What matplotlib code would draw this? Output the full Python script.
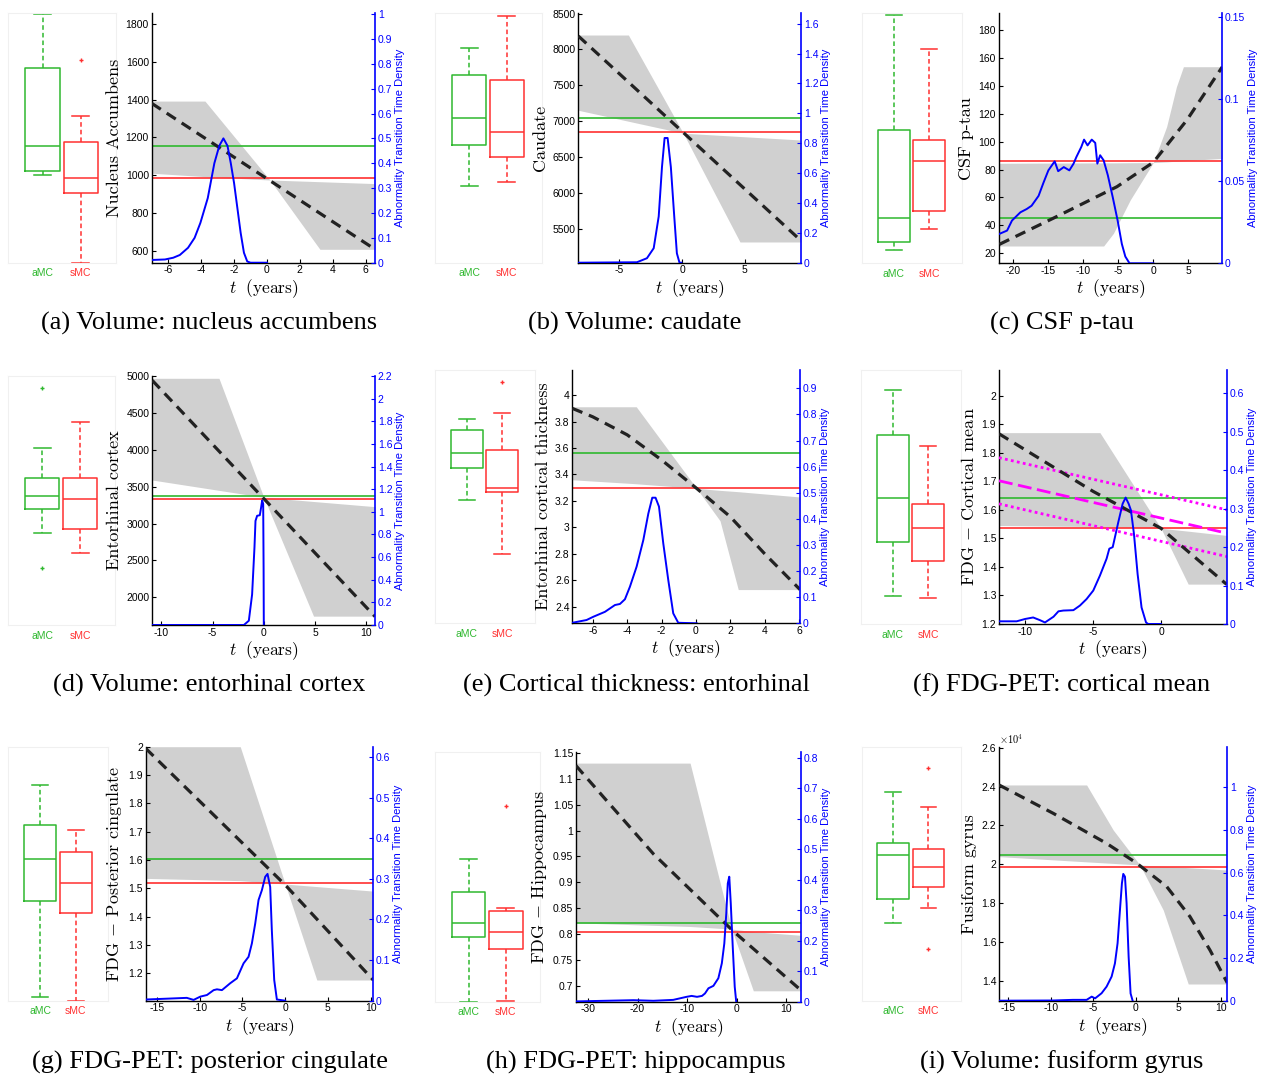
import matplotlib
matplotlib.use('Agg')
import matplotlib.pyplot as plt
from matplotlib.ticker import MultipleLocator, FuncFormatter

plt.rcParams['font.family'] = ['Liberation Sans', 'DejaVu Sans']
plt.rcParams['mathtext.fontset'] = 'cm'

# ------------------------------------------------------------------ data
# box stats: [whisker low, q1, median, q3, whisker high]
a_amc = [1001, 1023, 1156, 1569, 1852]
a_amc_out = []
a_smc = [537, 904, 985, 1174, 1313]
a_smc_out = [1608]
a_mean_t = [-7.01, 6.57]
a_mean_v = [1380, 607]
a_fan_t = [-7.01, -3.77, 0.18, 3.22, 6.57]
a_fan_lo = [1010, 992, 974, 607, 607]
a_fan_hi = [1392, 1392, 974, 965, 955]
a_dens_t = [-7.0, -6.2, -5.7, -5.3, -4.8, -4.4, -4.05, -3.6, -3.2, -2.9, -2.65, -2.4, -2.2, -2.0, -1.8, -1.6, -1.4, -1.2, -1.0, 0.0]
a_dens_d = [0.011, 0.013, 0.02, 0.031, 0.06, 0.10, 0.16, 0.26, 0.40, 0.47, 0.50, 0.47, 0.40, 0.32, 0.22, 0.12, 0.04, 0.005, 0.0, 0.0]

b_amc = [6097, 6669, 7038, 7638, 8020]
b_amc_out = []
b_smc = [6153, 6502, 6847, 7576, 8465]
b_smc_out = []
b_mean_t = [-8.28, 9.5]
b_mean_v = [8186, 5330]
b_fan_t = [-8.28, -4.28, 0.1, 4.63, 9.5]
b_fan_lo = [7150, 6997, 6830, 5312, 5312]
b_fan_hi = [8200, 8200, 6830, 6784, 6735]
b_dens_t = [-8.28, -3.6, -2.8, -2.26, -1.86, -1.6, -1.39, -1.15, -0.89, -0.62, -0.41, -0.2, -0.05]
b_dens_d = [0.0, 0.003, 0.03, 0.097, 0.31, 0.64, 0.835, 0.835, 0.64, 0.31, 0.063, 0.0, 0.0]

c_amc = [22.4, 27.9, 45.1, 108.4, 191.0]
c_amc_out = []
c_smc = [37.2, 50.3, 86.0, 101.2, 166.2]
c_smc_out = []
c_mean_t = [-22.0, -14.3, -5.2, 0.0, 4.8, 9.86]
c_mean_v = [26.4, 45.1, 67.7, 85.2, 115.5, 153.6]
c_fan_t = [-22.1, -7.1, -5.7, -3.3, 0.0, 1.9, 3.3, 4.3, 9.86]
c_fan_lo = [25.2, 25.2, 34.3, 58.2, 85.0, 85.5, 86.0, 86.3, 88.0]
c_fan_hi = [84.5, 84.8, 84.8, 84.9, 85.0, 110.7, 139.3, 153.7, 153.7]
c_dens_t = [-22.0, -20.9, -20.2, -19.0, -18.1, -17.4, -16.4, -15.7, -15.0, -14.1, -13.6, -12.8, -12.0, -11.4, -11.0,
            -10.3, -9.9, -9.4, -8.8, -8.3, -8.0, -7.6, -7.1, -6.5, -5.8, -5.1, -4.5, -4.0, -3.4, 0.0]
c_dens_d = [0.0179, 0.0199, 0.026, 0.031, 0.033, 0.035, 0.041, 0.049, 0.0565, 0.062, 0.056, 0.0585, 0.0565, 0.0606, 0.0646,
            0.0707, 0.0752, 0.0717, 0.0752, 0.0732, 0.0606, 0.0657, 0.0626, 0.0535, 0.0402, 0.026, 0.0118, 0.0041, 0.0, 0.0]

d_amc = [2868, 3197, 3378, 3613, 4020]
d_amc_out = [4837, 2394]
d_smc = [2597, 2930, 3333, 3622, 4381]
d_smc_out = []
d_mean_t = [-10.87, 10.84]
d_mean_v = [4940, 1740]
d_fan_t = [-10.87, -4.37, 0.0, 4.85, 10.84]
d_fan_lo = [3590, 3450, 3356, 1745, 1745]
d_fan_hi = [4969, 4969, 3356, 3299, 3229]
d_dens_t = [-10.87, -1.94, -1.46, -1.14, -0.91, -0.81, -0.65, -0.39, -0.26, -0.16, -0.06, -0.02, 0.0]
d_dens_d = [0.0, 0.0, 0.038, 0.27, 0.685, 0.92, 0.965, 0.97, 1.04, 1.10, 1.07, 0.5, 0.0]

e_amc = [3.206, 3.45, 3.564, 3.735, 3.82]
e_amc_out = []
e_smc = [2.80, 3.267, 3.30, 3.584, 3.862]
e_smc_out = [4.10]
e_mean_t = [-7.19, -6.0, -4.0, -2.0, 0.04, 2.0, 4.0, 6.05]
e_mean_v = [3.90, 3.836, 3.70, 3.51, 3.295, 3.08, 2.80, 2.53]
e_fan_t = [-7.19, -3.47, 0.04, 1.4, 2.46, 6.05]
e_fan_lo = [3.36, 3.33, 3.295, 3.05, 2.53, 2.53]
e_fan_hi = [3.912, 3.912, 3.295, 3.28, 3.27, 3.23]
e_dens_t = [-7.19, -6.36, -5.97, -5.29, -4.71, -4.42, -4.13, -3.84, -3.45, -3.06, -2.77, -2.54, -2.35, -2.15, -1.90, -1.61, -1.32, -1.03, 0.04]
e_dens_d = [0.002, 0.0126, 0.025, 0.044, 0.070, 0.074, 0.092, 0.14, 0.217, 0.319, 0.42, 0.481, 0.481, 0.447, 0.306, 0.166, 0.038, 0.002, 0.0]

f_amc = [1.298, 1.486, 1.641, 1.864, 2.021]
f_amc_out = []
f_smc = [1.291, 1.420, 1.535, 1.620, 1.824]
f_smc_out = []
f_mean_t = [-11.91, -5.0, 0.0, 4.83]
f_mean_v = [1.867, 1.665, 1.535, 1.338]
f_fan_t = [-11.91, -4.49, 0.0, 2.0, 4.83]
f_fan_lo = [1.545, 1.541, 1.535, 1.339, 1.339]
f_fan_hi = [1.871, 1.871, 1.535, 1.525, 1.51]
f_mag_t = [-11.91, 4.83]
f_mag_mid = [1.702, 1.518]
f_mag_up = [1.783, 1.600]
f_mag_lo = [1.621, 1.436]
f_dens_t = [-11.91, -10.61, -10.0, -9.4, -8.9, -8.53, -7.9, -7.54, -7.18, -6.44, -5.96, -5.47, -4.98, -4.49, -4.0, -3.8,
            -3.55, -3.14, -2.82, -2.6, -2.38, -2.21, -1.99, -1.72, -1.43, -1.1, -0.94, 0.0]
f_dens_d = [0.007, 0.007, 0.013, 0.017, 0.010, 0.004, 0.019, 0.033, 0.035, 0.036, 0.048, 0.065, 0.087, 0.126, 0.17, 0.196,
            0.2, 0.265, 0.313, 0.329, 0.313, 0.296, 0.235, 0.13, 0.043, 0.004, 0.0, 0.0]

g_amc = [1.117, 1.456, 1.604, 1.7226, 1.865]
g_amc_out = []
g_smc = [1.101, 1.412, 1.518, 1.628, 1.706]
g_smc_out = []
g_mean_t = [-16.3, 0.0, 10.3]
g_mean_v = [1.994, 1.512, 1.176]
g_fan_t = [-16.3, -5.25, 0.0, 3.7, 10.3]
g_fan_lo = [1.535, 1.527, 1.515, 1.176, 1.176]
g_fan_hi = [2.0, 2.0, 1.515, 1.506, 1.49]
g_dens_t = [-16.2, -13.8, -11.5, -10.7, -9.92, -9.14, -8.36, -7.97, -7.39, -6.42, -5.64, -4.86, -4.28, -3.89, -3.5, -3.11,
            -2.72, -2.33, -2.06, -1.75, -1.56, -1.28, -0.97, 0.0]
g_dens_d = [0.003, 0.005, 0.007, 0.002, 0.01, 0.014, 0.026, 0.028, 0.026, 0.043, 0.055, 0.092, 0.108, 0.141, 0.19, 0.248,
            0.272, 0.305, 0.312, 0.28, 0.174, 0.051, 0.003, 0.0]

h_amc = [0.670, 0.794, 0.821, 0.882, 0.945]
h_amc_out = []
h_smc = [0.671, 0.771, 0.805, 0.844, 0.851]
h_smc_out = [1.047]
h_mean_t = [-32.4, -16.8, -0.7, 12.96]
h_mean_v = [1.125, 0.955, 0.806, 0.692]
h_fan_t = [-32.4, -9.4, -1.0, 3.35, 12.96]
h_fan_lo = [0.822, 0.815, 0.81, 0.691, 0.691]
h_fan_hi = [1.13, 1.13, 0.81, 0.805, 0.798]
h_dens_t = [-32.3, -20.8, -16.8, -12.8, -10.1, -9.1, -8.0, -7.0, -6.4, -5.7, -4.7, -3.7, -3.0, -2.5, -2.1, -1.8, -1.5,
            -1.2, -0.8, -0.4, -0.1]
h_dens_d = [0.001, 0.005, 0.003, 0.006, 0.016, 0.019, 0.016, 0.019, 0.027, 0.044, 0.052, 0.077, 0.126, 0.191, 0.29, 0.388,
            0.41, 0.323, 0.18, 0.049, 0.0]

i_amc = [16990, 18200, 20460, 21100, 23730]
i_amc_out = []
i_smc = [17760, 18810, 19870, 20800, 22970]
i_smc_out = [24930, 15620]
i_mean_t = [-16.1, -9.73, -3.45, 0.0, 3.61, 6.35, 8.71, 10.74]
i_mean_v = [24080, 22620, 21070, 20080, 18850, 17300, 15570, 13890]
i_fan_t = [-16.1, -5.8, -2.67, 0.47, 3.21, 6.15, 10.74]
i_fan_lo = [20390, 20120, 20040, 19960, 17640, 13830, 13830]
i_fan_hi = [24080, 24080, 21760, 19960, 19890, 19820, 19700]
i_dens_t = [-16.1, -9.72, -7.4, -5.8, -5.2, -4.8, -4.04, -3.45, -2.86, -2.47, -2.16, -1.88, -1.65, -1.49, -1.29, -1.1,
            -0.86, -0.63, -0.39]
i_dens_d = [0.0, 0.001, 0.004, 0.004, 0.019, 0.011, 0.035, 0.066, 0.113, 0.175, 0.269, 0.425, 0.55, 0.594, 0.581, 0.457,
            0.206, 0.034, 0.0]

group_labels = ['aMC', 'sMC']

# ------------------------------------------------------------------ style / layout
W, H = 1266, 1076
GREEN = '#2fb82f'
RED = '#ff3030'
BLUE = '#0000ff'
FAN = '#d0d0d0'
MAG = '#ff00ff'

fig = plt.figure(figsize=(W / 100, H / 100), dpi=100)


def px_axes(x0, x1, y0, y1):
    return fig.add_axes([x0 / W, 1 - y1 / H, (x1 - x0) / W, (y1 - y0) / H])


def gfmt(v, pos):
    return '%g' % round(v, 6)


def sci4fmt(v, pos):
    return '%g' % round(v / 1e4, 6)


panels = [
    dict(amc=a_amc, amc_out=a_amc_out, smc=a_smc, smc_out=a_smc_out, mt=a_mean_t, mv=a_mean_v,
         ft=a_fan_t, flo=a_fan_lo, fhi=a_fan_hi, dt=a_dens_t, dd=a_dens_d,
         box=(8.3, 115.7), main=(151.7, 375, 13.3, 262.7), xlim=(-7.01, 6.57), ylim=(536, 1857),
         y2lim=(0, 1.003), xs=2, ys=200, y2s=0.1, ylabel='Nucleus Accumbens',
         cap='(a) Volume: nucleus accumbens', capxy=(209, 323)),
    dict(amc=b_amc, amc_out=b_amc_out, smc=b_smc, smc_out=b_smc_out, mt=b_mean_t, mv=b_mean_v,
         ft=b_fan_t, flo=b_fan_lo, fhi=b_fan_hi, dt=b_dens_t, dd=b_dens_d,
         box=(435, 541.7), main=(578.3, 801, 13.3, 262.7), xlim=(-8.28, 9.5), ylim=(5023, 8503),
         y2lim=(0, 1.67), xs=5, ys=500, y2s=0.2, ylabel='Caudate',
         cap='(b) Volume: caudate', capxy=(635, 323)),
    dict(amc=c_amc, amc_out=c_amc_out, smc=c_smc, smc_out=c_smc_out, mt=c_mean_t, mv=c_mean_v,
         ft=c_fan_t, flo=c_fan_lo, fhi=c_fan_hi, dt=c_dens_t, dd=c_dens_d,
         box=(861.7, 961.7), main=(998.7, 1222.3, 13.3, 263.3), xlim=(-22.1, 9.86), ylim=(12.8, 192),
         y2lim=(0, 0.152), xs=5, ys=20, y2s=0.05, ylabel='CSF p-tau',
         cap='(c) CSF p-tau', capxy=(1062, 323)),
    dict(amc=d_amc, amc_out=d_amc_out, smc=d_smc, smc_out=d_smc_out, mt=d_mean_t, mv=d_mean_v,
         ft=d_fan_t, flo=d_fan_lo, fhi=d_fan_hi, dt=d_dens_t, dd=d_dens_d,
         box=(8.3, 115), main=(152.3, 375, 376, 625), xlim=(-10.87, 10.84), ylim=(1625, 5000),
         y2lim=(0, 2.2), xs=5, ys=500, y2s=0.2, ylabel='Entorhinal cortex',
         cap='(d) Volume: entorhinal cortex', capxy=(209, 685)),
    dict(amc=e_amc, amc_out=e_amc_out, smc=e_smc, smc_out=e_smc_out, mt=e_mean_t, mv=e_mean_v,
         ft=e_fan_t, flo=e_fan_lo, fhi=e_fan_hi, dt=e_dens_t, dd=e_dens_d,
         box=(435, 535), main=(572.3, 800, 370, 623.3), xlim=(-7.19, 6.05), ylim=(2.275, 4.19),
         y2lim=(0, 0.97), xs=2, ys=0.2, y2s=0.1, ylabel='Entorhinal cortical thickness',
         cap='(e) Cortical thickness: entorhinal', capxy=(636, 685)),
    dict(amc=f_amc, amc_out=f_amc_out, smc=f_smc, smc_out=f_smc_out, mt=f_mean_t, mv=f_mean_v,
         ft=f_fan_t, flo=f_fan_lo, fhi=f_fan_hi, dt=f_dens_t, dd=f_dens_d,
         box=(860.7, 960.7), main=(999, 1226.7, 370, 624), xlim=(-11.91, 4.83), ylim=(1.199, 2.091),
         y2lim=(0, 0.661), xs=5, ys=0.1, y2s=0.1, ylabel='FDG $-$ Cortical mean',
         cap='(f) FDG-PET: cortical mean', capxy=(1062, 685), magenta=True),
    dict(amc=g_amc, amc_out=g_amc_out, smc=g_smc, smc_out=g_smc_out, mt=g_mean_t, mv=g_mean_v,
         ft=g_fan_t, flo=g_fan_lo, fhi=g_fan_hi, dt=g_dens_t, dd=g_dens_d,
         box=(8.3, 108.3), main=(145.7, 373.3, 746.7, 1000.7), xlim=(-16.3, 10.3), ylim=(1.103, 2.0),
         y2lim=(0, 0.625), xs=5, ys=0.1, y2s=0.1, ylabel='FDG $-$ Posterior cingulate',
         cap='(g) FDG-PET: posterior cingulate', capxy=(210, 1062)),
    dict(amc=h_amc, amc_out=h_amc_out, smc=h_smc, smc_out=h_smc_out, mt=h_mean_t, mv=h_mean_v,
         ft=h_fan_t, flo=h_fan_lo, fhi=h_fan_hi, dt=h_dens_t, dd=h_dens_d,
         box=(435, 540), main=(576, 801, 751.7, 1001.7), xlim=(-32.4, 12.96), ylim=(0.670, 1.152),
         y2lim=(0, 0.82), xs=10, ys=0.05, y2s=0.1, ylabel='FDG $-$ Hippocampus',
         cap='(h) FDG-PET: hippocampus', capxy=(636, 1062)),
    dict(amc=i_amc, amc_out=i_amc_out, smc=i_smc, smc_out=i_smc_out, mt=i_mean_t, mv=i_mean_v,
         ft=i_fan_t, flo=i_fan_lo, fhi=i_fan_hi, dt=i_dens_t, dd=i_dens_d,
         box=(861.7, 960.7), main=(999, 1227.3, 746.7, 1000.7), xlim=(-16.1, 10.74), ylim=(12970, 26050),
         y2lim=(0, 1.19), xs=5, ys=2000, y2s=0.2, ylabel='Fusiform gyrus',
         cap='(i) Volume: fusiform gyrus', capxy=(1062, 1062), sci=True),
]


def stats(v, out):
    return dict(whislo=v[0], q1=v[1], med=v[2], q3=v[3], whishi=v[4], fliers=out)


for p in panels:
    mx0, mx1, my0, my1 = p['main']
    bx0, bx1 = p['box']

    # ---- box plot axes
    bax = px_axes(bx0, bx1, my0, my1)
    for grp, (vals, out, col) in enumerate([(p['amc'], p['amc_out'], GREEN), (p['smc'], p['smc_out'], RED)]):
        bax.bxp([stats(vals, out)], positions=[grp + 1], widths=0.9, showfliers=True,
                boxprops=dict(color=col, lw=1.1),
                medianprops=dict(color=col, lw=1.1),
                whiskerprops=dict(color=col, lw=1.1, linestyle=(0, (3, 2))),
                capprops=dict(color=col, lw=1.1),
                flierprops=dict(marker='+', markeredgecolor=col, markersize=3.5, markeredgewidth=1.0))
    bax.set_xlim(0.1, 2.92)
    bax.set_ylim(*p['ylim'])
    bax.set_yticks([])
    bax.set_xticks([1, 2])
    bax.set_xticklabels(group_labels)
    for lab, col in zip(bax.get_xticklabels(), [GREEN, RED]):
        lab.set_color(col)
    bax.tick_params(axis='x', length=0, labelsize=7.5, pad=4)
    for s in bax.spines.values():
        s.set_color('#f0f0f0')
        s.set_linewidth(0.8)

    # ---- main axes
    ax = px_axes(mx0, mx1, my0, my1)
    ax.fill_between(p['ft'], p['flo'], p['fhi'], color=FAN, lw=0, zorder=1)
    ax.axhline(p['amc'][2], color=GREEN, lw=1.2, zorder=2)
    ax.axhline(p['smc'][2], color=RED, lw=1.2, zorder=2)
    if p.get('magenta'):
        ax.plot(f_mag_t, f_mag_up, color=MAG, lw=2.0, linestyle=(0, (1, 1.2)), zorder=3)
        ax.plot(f_mag_t, f_mag_lo, color=MAG, lw=2.0, linestyle=(0, (1, 1.2)), zorder=3)
        ax.plot(f_mag_t, f_mag_mid, color=MAG, lw=2.0, linestyle=(0, (5, 2)), zorder=3)
    ax.plot(p['mt'], p['mv'], color='#222222', lw=2.3, linestyle=(0, (3.4, 2.2)), zorder=4)
    ax.set_xlim(*p['xlim'])
    ax.set_ylim(*p['ylim'])
    ax.xaxis.set_major_locator(MultipleLocator(p['xs']))
    ax.yaxis.set_major_locator(MultipleLocator(p['ys']))
    ax.xaxis.set_major_formatter(FuncFormatter(gfmt))
    ax.yaxis.set_major_formatter(FuncFormatter(sci4fmt if p.get('sci') else gfmt))
    ax.tick_params(direction='in', length=3, width=0.8, labelsize=7.5, pad=2)
    ax.spines['top'].set_visible(False)
    ax.spines['right'].set_visible(False)
    ax.spines['left'].set_linewidth(1.0)
    ax.spines['bottom'].set_linewidth(1.0)
    ax.set_ylabel(p['ylabel'], family='cmr10', fontsize=13, labelpad=3)
    ax.set_xlabel(r'$t\ \ (\mathrm{years})$', fontsize=12.5, labelpad=1)
    if p.get('sci'):
        ax.text(0.0, 1.003, r'$\times10^{4}$', transform=ax.transAxes, fontsize=7.5,
                ha='left', va='bottom', family='DejaVu Sans')

    # ---- density axes
    ax2 = ax.twinx()
    ax2.plot(p['dt'], p['dd'], color=BLUE, lw=1.4, zorder=5)
    ax2.set_ylim(*p['y2lim'])
    ax2.yaxis.set_major_locator(MultipleLocator(p['y2s']))
    ax2.yaxis.set_major_formatter(FuncFormatter(gfmt))
    ax2.tick_params(axis='y', direction='in', length=3, width=0.8, labelsize=7.5, pad=2,
                    colors=BLUE)
    for k in ['top', 'left', 'bottom']:
        ax2.spines[k].set_visible(False)
    ax2.spines['right'].set_color(BLUE)
    ax2.spines['right'].set_linewidth(1.2)
    ax2.set_ylabel('Abnormality Transition Time Density', color=BLUE, fontsize=8, labelpad=2)

    # ---- caption
    fig.text(p['capxy'][0] / W, 1 - p['capxy'][1] / H, p['cap'], family='Liberation Serif',
             fontsize=19, ha='center', va='center')

fig.savefig('out.png', dpi=100)
